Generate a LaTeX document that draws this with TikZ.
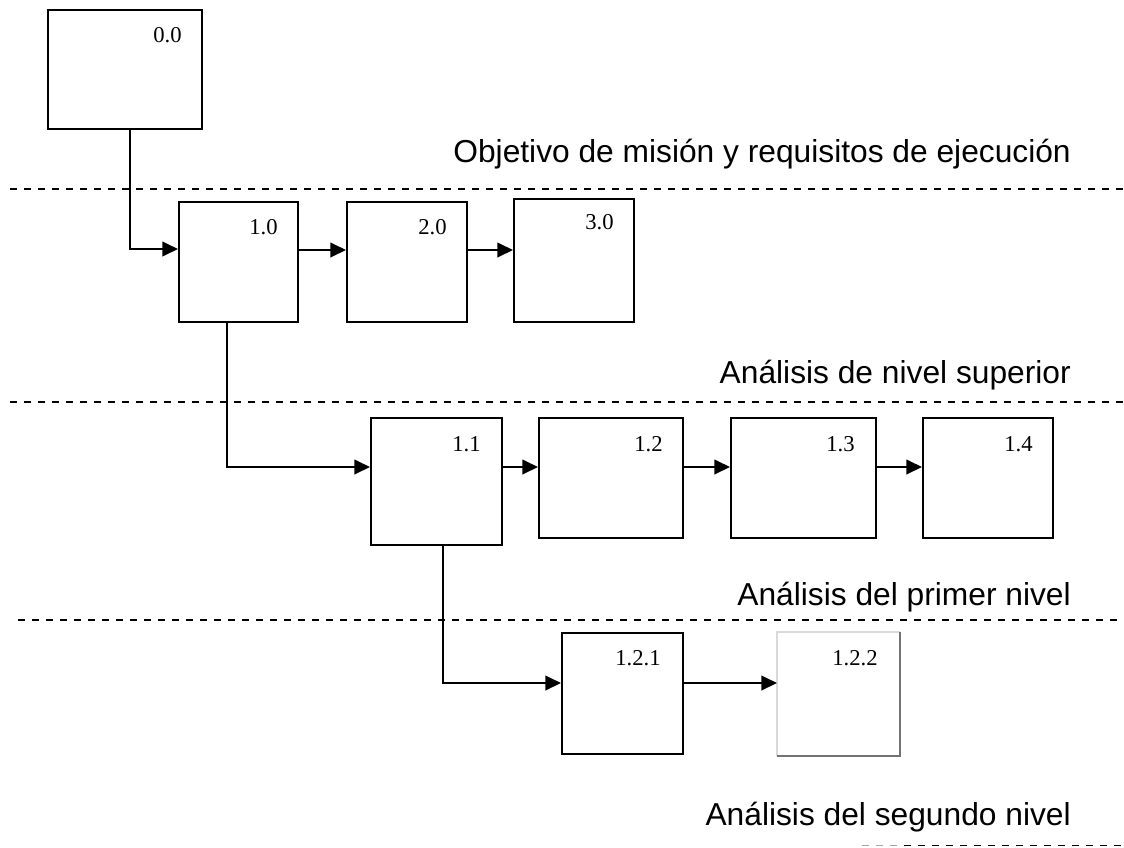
\documentclass[tikz,border=0pt]{standalone}
\usepackage{fontspec}
\setmainfont{Liberation Serif}
\newfontfamily\arialf{Liberation Sans}
\usetikzlibrary{arrows.meta,calc}
\tikzset{
  box/.style={draw=black,line width=1.5pt,fill=white,inner sep=0pt,rectangle},
  lbl/.style={anchor=base east,inner sep=0pt,font=\fontsize{17}{20}\selectfont},
  conn/.style={line width=1.5pt,-{Triangle[length=11.8pt,width=11pt]}},
  sep/.style={line width=1.2pt,dash pattern=on 5.3pt off 5.2pt},
  heading/.style={anchor=base east,inner sep=0pt,font=\arialf\fontsize{23.8}{28}\selectfont}
}
\begin{document}
\begin{tikzpicture}[x=0.75pt,y=-0.75pt]
\useasboundingbox (0,0) rectangle (1124,847);
% separators
\coordinate (s1a) at (10,189);  \coordinate (s1b) at (1124,189);
\coordinate (s2a) at (10,402);  \coordinate (s2b) at (1124,402);
\coordinate (s3a) at (18,620);  \coordinate (s3b) at (1122,620);
\coordinate (s4a) at (862,845.5); \coordinate (s4m) at (904,845.5); \coordinate (s4b) at (1124,845.5);
\draw[sep] (s1a) -- (s1b);
\draw[sep] (s2a) -- (s2b);
\draw[sep] (s3a) -- (s3b);
\draw[sep,draw=black!35] (s4a) -- (s4m);
\draw[sep] (s4m) -- (s4b);
% headings
\node[heading] (h1) at (1071,162) {Objetivo de misión y requisitos de ejecución};
\node[heading] (h2) at (1071,383) {Análisis de nivel superior};
\node[heading] (h3) at (1071,605) {Análisis del primer nivel};
\node[heading] (h4) at (1071,825) {Análisis del segundo nivel};
% boxes
\node[box,minimum width=115.5pt,minimum height=89.25pt] (b00) at (125,69.5) {};
\node[box,minimum width=89.25pt,minimum height=90pt] (b10) at (238.5,262) {};
\node[box,minimum width=90pt,minimum height=90pt] (b20) at (407,262) {};
\node[box,minimum width=90pt,minimum height=92.25pt] (b30) at (574,260.5) {};
\node[box,minimum width=98.25pt,minimum height=95.25pt] (b11) at (436.5,481.5) {};
\node[box,minimum width=108pt,minimum height=90pt] (b12) at (611,478) {};
\node[box,minimum width=108.75pt,minimum height=90pt] (b13) at (803.5,478) {};
\node[box,minimum width=97.5pt,minimum height=90pt] (b14) at (988,478) {};
\node[box,minimum width=90.75pt,minimum height=90.75pt] (b121) at (622.5,693.5) {};
\node[box,draw=none,minimum width=90.75pt,minimum height=91.5pt] (b122) at (838.5,694) {};
\draw[line width=1pt,black!15] (b122.south west) -- (b122.north west) -- (b122.north east);
\draw[line width=1.2pt,black!55] (b122.north east) -- (b122.south east) -- (b122.south west);
% labels
\node[lbl] (l00) at ($(b00.north east)+(-21,33)$) {0.0};
\node[lbl] (l10) at ($(b10.north east)+(-21,33)$) {1.0};
\node[lbl] (l20) at ($(b20.north east)+(-21,33)$) {2.0};
\node[lbl] (l30) at ($(b30.north east)+(-21,31)$) {3.0};
\node[lbl] (l11) at ($(b11.north east)+(-22,34)$) {1.1};
\node[lbl] (l12) at ($(b12.north east)+(-21,34)$) {1.2};
\node[lbl] (l13) at ($(b13.north east)+(-22,34)$) {1.3};
\node[lbl] (l14) at ($(b14.north east)+(-21,34)$) {1.4};
\node[lbl] (l121) at ($(b121.north east)+(-23,33)$) {1.2.1};
\node[lbl] (l122) at ($(b122.north east)+(-22,33)$) {1.2.2};
% connectors
\draw[conn] ($(b00.south)+(5,0)$) |- ($(b10.west)+(0,-13)$);
\draw[conn] ($(b10.east)+(0,-12)$) -- ($(b20.west)+(0,-12)$);
\draw[conn] ($(b20.east)+(0,-12)$) -- ($(b30.west)+(0,-10.5)$);
\draw[conn] ($(b10.south)+(-11.5,0)$) |- ($(b11.west)+(0,-14.5)$);
\draw[conn] ($(b11.east)+(0,-14.5)$) -- ($(b12.west)+(0,-11)$);
\draw[conn] ($(b12.east)+(0,-11)$) -- ($(b13.west)+(0,-11)$);
\draw[conn] ($(b13.east)+(0,-11)$) -- ($(b14.west)+(0,-11)$);
\draw[conn] ($(b11.south)+(6.5,0)$) |- ($(b121.west)+(0,-10.5)$);
\draw[conn] ($(b121.east)+(0,-10.5)$) -- ($(b122.west)+(0,-11)$);
\end{tikzpicture}
\end{document}
